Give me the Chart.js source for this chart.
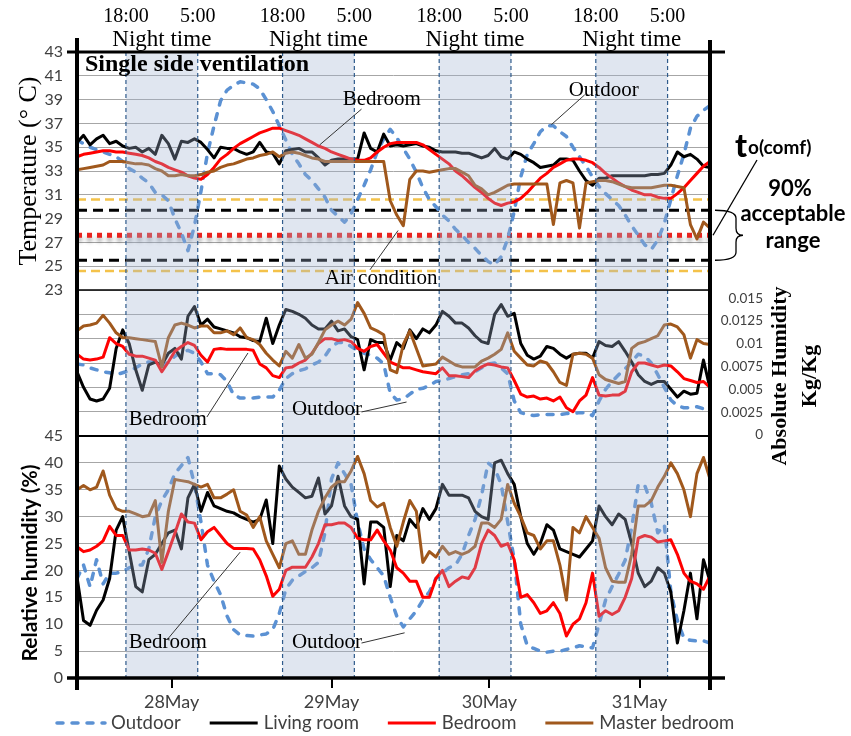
<!DOCTYPE html>
<html>
<head>
<meta charset="utf-8">
<script src="https://cdn.jsdelivr.net/npm/chart.js@4.4.1/dist/chart.umd.min.js"></script>
<style>
  html, body { margin: 0; padding: 0; background: #fff; }
  #wrap { position: relative; width: 851px; height: 736px; }
  #wrap canvas { position: absolute; left: 0; top: 0; }
</style>
</head>
<body>
<div id="wrap">
  <canvas id="temp-chart" width="851" height="736"></canvas>
  <canvas id="ah-chart" width="851" height="736"></canvas>
  <canvas id="rh-chart" width="851" height="736"></canvas>
</div>
<script>
// hours since 27 May 10:30
const hours = [
  0, 1, 2, 3, 4, 5, 6, 7, 8, 9, 10, 11, 12, 13, 14, 15, 16, 17, 18, 19,
  20, 21, 22, 23, 24, 25, 26, 27, 28, 29, 30, 31, 32, 33, 34, 35, 36, 37, 38, 39,
  40, 41, 42, 43, 44, 45, 46, 47, 48, 49, 50, 51, 52, 53, 54, 55, 56, 57, 58, 59,
  60, 61, 62, 63, 64, 65, 66, 67, 68, 69, 70, 71, 72, 73, 74, 75, 76, 77, 78, 79,
  80, 81, 82, 83, 84, 85, 86, 87, 88, 89, 90, 91, 92, 93, 94, 95, 96, 97
];
const hourMax = 97;

const dayTicks = [14.5, 39, 63.2, 86.2];
const dayLabels = ["28May", "29May", "30May", "31May"];

// night periods 18:00 -> 5:00
const nightStart = [7.5, 31.5, 55.5, 79.5];
const nightEnd = [18.5, 42.5, 66.5, 90.5];
const nightStartLabel = "18:00";
const nightEndLabel = "5:00";

// comfort temperature and acceptable ranges
const comfortTemp = 27.6;
const band90 = [25.5, 29.7];
const band80 = [24.6, 30.6];

// ---- temperature (°C)
const tempOutdoor = [
  35.6, 35.3, 35.0, 34.8, 34.6, 34.4, 34.2, 33.8, 33.2, 32.9,
  32.4, 32.0, 31.2, 31.0, 30.5, 29.0, 27.8, 26.3, 28.4, 31.3,
  34.5, 36.8, 38.9, 39.8, 40.2, 40.5, 40.4, 40.3, 39.9, 39.0,
  38.0, 36.8, 35.6, 34.4, 33.6, 32.7, 32.2, 31.5, 30.8, 29.7,
  29.2, 28.7, 29.4, 30.6, 31.8, 33.1, 34.6, 35.7, 36.5, 35.8,
  34.9, 34.0, 32.9, 31.6, 30.6, 30.0, 29.3, 28.8, 28.1, 27.6,
  27.0, 26.5, 25.9, 25.4, 25.1, 25.8, 27.3, 29.6, 32.5, 34.4,
  35.3, 36.3, 36.8, 36.8, 36.3, 35.9, 35.0, 34.2, 33.4, 32.5,
  31.7, 31.1, 30.6, 30.1, 29.3, 28.4, 27.6, 26.8, 26.4, 27.2,
  28.6, 30.6, 32.6, 34.4, 36.6, 37.6, 38.1, 38.5
];
const tempLiving = [
  35.4, 36.0, 35.2, 35.7, 36.0, 35.3, 35.5, 35.1, 34.9, 35.0,
  34.6, 34.9, 34.4, 36.0, 35.3, 34.0, 35.5, 35.4, 35.7, 35.4,
  34.8, 34.1, 35.0, 34.9, 34.9, 34.6, 34.4, 34.6, 35.4, 34.6,
  34.5, 33.6, 34.7, 34.8, 34.9, 34.6, 34.6, 34.1, 33.5, 33.9,
  34.0, 34.0, 34.0, 34.0, 36.2, 34.9, 34.6, 36.1, 35.1, 35.2,
  35.1, 35.2, 35.3, 35.1, 35.0, 34.7, 34.6, 34.6, 34.6, 34.5,
  34.5, 34.3, 34.1, 34.3, 34.9, 34.2, 34.0, 34.6, 34.4, 34.0,
  33.7, 33.3, 33.4, 33.5, 34.0, 34.0, 33.9, 33.0, 32.2, 31.8,
  32.4, 32.4, 32.6, 32.6, 32.6, 32.6, 32.6, 32.6, 32.7, 32.7,
  32.8, 33.5, 34.6, 34.2, 34.4, 34.0, 33.4, 33.3
];
const tempBedroom = [
  34.2, 34.4, 34.5, 34.6, 34.7, 34.7, 34.6, 34.6, 34.5, 34.4,
  34.3, 34.1, 33.8, 33.6, 33.3, 33.1, 32.9, 32.6, 32.4, 32.3,
  32.7, 33.3, 34.0, 34.4, 34.9, 35.3, 35.6, 35.9, 36.2, 36.4,
  36.6, 36.6, 36.4, 36.2, 36.0, 35.7, 35.4, 35.1, 34.9, 34.6,
  34.4, 34.2, 34.0, 33.9, 33.9, 34.1, 34.6, 35.0, 35.3, 35.4,
  35.4, 35.4, 35.4, 35.2, 34.8, 34.4, 34.0, 33.6, 33.0, 32.6,
  32.1, 31.6, 31.2, 30.7, 30.3, 30.1, 30.3, 30.4, 30.7, 31.2,
  31.8, 32.4, 32.8, 33.3, 33.6, 33.9, 34.0, 34.0, 33.9, 33.7,
  33.3, 32.8, 32.4, 32.0, 31.7, 31.4, 31.2, 31.0, 31.0, 30.8,
  30.7, 30.7, 31.1, 31.6, 32.2, 32.8, 33.4, 33.8
];
const tempMaster = [
  33.1, 33.2, 33.3, 33.4, 33.5, 33.8, 33.8, 33.8, 33.7, 33.6,
  33.6, 33.5, 33.2, 33.0, 32.6, 32.6, 32.7, 32.6, 32.6, 32.7,
  32.9, 33.0, 33.3, 33.5, 33.6, 33.8, 34.0, 34.1, 34.3, 34.4,
  34.6, 34.2, 34.5, 34.6, 34.5, 34.3, 34.1, 34.0, 33.8, 33.8,
  33.8, 33.8, 33.8, 33.8, 33.8, 33.8, 33.8, 33.8, 30.5, 29.3,
  28.4, 32.3, 33.0, 33.0, 32.9, 33.0, 33.1, 33.2, 33.2, 32.9,
  32.6, 31.8, 31.5, 31.0, 31.2, 31.5, 31.8, 31.9, 31.9, 31.9,
  31.9, 31.9, 31.9, 28.5, 32.0, 32.2, 32.0, 28.2, 32.0, 32.1,
  32.2, 32.2, 32.1, 31.9, 31.7, 31.6, 31.6, 31.6, 31.6, 31.7,
  31.8, 31.8, 31.7, 31.6, 28.5, 27.3, 28.7, 28.2
];

// ---- absolute humidity (kg/kg)
const ahOutdoor = [
  0.0074, 0.0073, 0.0070, 0.0068, 0.0066, 0.0065, 0.0063, 0.0065, 0.0067, 0.0070,
  0.0074, 0.0076, 0.0076, 0.0072, 0.0076, 0.0082, 0.0086, 0.0088, 0.0085, 0.0076,
  0.0064, 0.0064, 0.0063, 0.0056, 0.0042, 0.0039, 0.0039, 0.0039, 0.0040, 0.0040,
  0.0040, 0.0047, 0.0059, 0.0064, 0.0067, 0.0069, 0.0073, 0.0076, 0.0082, 0.0092,
  0.0096, 0.0096, 0.0092, 0.0088, 0.0085, 0.0083, 0.0080, 0.0074, 0.0044, 0.0037,
  0.0038, 0.0043, 0.0048, 0.0049, 0.0052, 0.0056, 0.0057, 0.0059, 0.0061, 0.0063,
  0.0064, 0.0066, 0.0070, 0.0074, 0.0075, 0.0070, 0.0064, 0.0036, 0.0024, 0.0022,
  0.0021, 0.0022, 0.0022, 0.0022, 0.0022, 0.0023, 0.0023, 0.0024, 0.0024, 0.0021,
  0.0036, 0.0048, 0.0056, 0.0063, 0.0069, 0.0076, 0.0084, 0.0082, 0.0075, 0.0063,
  0.0050, 0.0037, 0.0031, 0.0029, 0.0029, 0.0030, 0.0028, 0.0027
];
const ahLiving = [
  0.0066, 0.0050, 0.0038, 0.0036, 0.0038, 0.0049, 0.0090, 0.0109, 0.0095, 0.0068,
  0.0047, 0.0073, 0.0076, 0.0073, 0.0085, 0.0090, 0.0079, 0.0123, 0.0133, 0.0114,
  0.0120, 0.0112, 0.0110, 0.0108, 0.0106, 0.0102, 0.0101, 0.0098, 0.0097, 0.0121,
  0.0095, 0.0114, 0.0130, 0.0128, 0.0125, 0.0121, 0.0114, 0.0110, 0.0110, 0.0118,
  0.0108, 0.0110, 0.0102, 0.0099, 0.0068, 0.0099, 0.0096, 0.0096, 0.0078, 0.0096,
  0.0090, 0.0109, 0.0100, 0.0110, 0.0106, 0.0114, 0.0128, 0.0123, 0.0116, 0.0116,
  0.0111, 0.0103, 0.0097, 0.0095, 0.0125, 0.0135, 0.0123, 0.0126, 0.0095, 0.0083,
  0.0079, 0.0082, 0.0092, 0.0090, 0.0084, 0.0080, 0.0084, 0.0085, 0.0085, 0.0080,
  0.0097, 0.0093, 0.0092, 0.0097, 0.0087, 0.0076, 0.0063, 0.0056, 0.0053, 0.0056,
  0.0056, 0.0048, 0.0040, 0.0046, 0.0043, 0.0044, 0.0078, 0.0049
];
const ahBedroom = [
  0.0084, 0.0079, 0.0078, 0.0079, 0.0081, 0.0101, 0.0095, 0.0092, 0.0084, 0.0082,
  0.0082, 0.0080, 0.0078, 0.0066, 0.0076, 0.0087, 0.0092, 0.0096, 0.0093, 0.0083,
  0.0076, 0.0089, 0.0090, 0.0089, 0.0089, 0.0089, 0.0089, 0.0088, 0.0074, 0.0070,
  0.0062, 0.0060, 0.0070, 0.0071, 0.0075, 0.0078, 0.0085, 0.0095, 0.0100, 0.0100,
  0.0098, 0.0099, 0.0097, 0.0090, 0.0087, 0.0092, 0.0094, 0.0085, 0.0076, 0.0073,
  0.0070, 0.0070, 0.0068, 0.0066, 0.0065, 0.0064, 0.0070, 0.0062, 0.0062, 0.0061,
  0.0060, 0.0067, 0.0071, 0.0074, 0.0073, 0.0071, 0.0070, 0.0057, 0.0043, 0.0040,
  0.0041, 0.0038, 0.0039, 0.0036, 0.0040, 0.0029, 0.0025, 0.0036, 0.0042, 0.0060,
  0.0042, 0.0041, 0.0042, 0.0042, 0.0046, 0.0066, 0.0075, 0.0075, 0.0073, 0.0071,
  0.0073, 0.0072, 0.0066, 0.0059, 0.0057, 0.0055, 0.0056, 0.0050
];
const ahMaster = [
  0.0108, 0.0113, 0.0114, 0.0116, 0.0124, 0.0116, 0.0106, 0.0101, 0.0101, 0.0100,
  0.0099, 0.0098, 0.0097, 0.0071, 0.0101, 0.0114, 0.0116, 0.0114, 0.0111, 0.0113,
  0.0113, 0.0106, 0.0106, 0.0108, 0.0104, 0.0111, 0.0101, 0.0099, 0.0094, 0.0085,
  0.0078, 0.0072, 0.0087, 0.0080, 0.0094, 0.0080, 0.0084, 0.0096, 0.0109, 0.0114,
  0.0118, 0.0114, 0.0120, 0.0137, 0.0126, 0.0111, 0.0108, 0.0104, 0.0068, 0.0065,
  0.0094, 0.0108, 0.0090, 0.0072, 0.0073, 0.0074, 0.0081, 0.0077, 0.0073, 0.0071,
  0.0071, 0.0071, 0.0077, 0.0080, 0.0084, 0.0089, 0.0106, 0.0087, 0.0080, 0.0073,
  0.0072, 0.0077, 0.0075, 0.0066, 0.0055, 0.0052, 0.0084, 0.0085, 0.0084, 0.0080,
  0.0063, 0.0058, 0.0056, 0.0054, 0.0056, 0.0090, 0.0095, 0.0097, 0.0100, 0.0103,
  0.0114, 0.0115, 0.0112, 0.0104, 0.0080, 0.0099, 0.0095, 0.0094
];
const ahTicks = [0, 0.0025, 0.005, 0.0075, 0.01, 0.0125, 0.015];

// ---- relative humidity (%)
const rhOutdoor = [
  18.5, 21.0, 17.0, 22.0, 17.5, 19.5, 19.5, 19.8, 20.5, 21.0,
  21.0, 24.0, 30.0, 33.0, 35.0, 38.0, 39.5, 41.0, 36.0, 29.0,
  21.0, 18.0, 15.5, 11.5, 9.0, 8.0, 7.9, 7.8, 8.0, 8.2,
  9.0, 12.0, 16.5, 18.2, 19.0, 19.8, 20.5, 21.5, 27.0, 37.0,
  40.0, 38.0, 36.0, 29.0, 24.0, 22.0, 20.5, 19.0, 15.0, 11.5,
  9.5, 11.0, 12.5, 14.5, 16.0, 18.5, 19.5, 20.5, 21.0, 23.0,
  26.5, 29.5, 34.0, 40.0, 39.0, 36.0, 29.0, 22.0, 10.0, 6.0,
  5.5, 5.0, 4.8, 5.0, 5.0, 5.3, 5.6, 6.0, 5.8, 5.6,
  10.0, 14.5, 17.0, 19.3, 21.9, 28.0, 36.0, 35.8, 32.5, 27.0,
  28.5, 16.0, 10.7, 7.4, 7.0, 6.9, 6.9, 6.5
];
const rhLiving = [
  18.8, 10.7, 9.8, 12.6, 14.5, 18.5, 27.5, 30.0, 23.5, 17.0,
  16.0, 22.0, 23.0, 25.0, 27.0, 27.5, 24.0, 33.5, 36.0, 31.0,
  34.5, 32.0, 31.5, 31.0, 30.7, 30.0, 29.5, 29.0, 29.5, 33.1,
  25.0, 39.4, 37.0, 35.5, 34.5, 33.5, 33.8, 37.2, 30.5, 32.0,
  37.5, 32.0, 30.0, 29.5, 17.5, 29.0, 29.0, 28.0, 17.0, 26.5,
  25.5, 29.5, 28.0, 31.5, 29.5, 31.5, 36.0, 34.0, 34.0, 34.0,
  33.5, 31.0, 30.0, 29.5, 40.0, 40.5, 38.0, 36.0, 30.0, 25.0,
  23.0, 25.0, 28.5, 27.5, 24.0, 23.5, 23.0, 22.5, 24.0, 25.5,
  32.0, 30.0, 28.5, 30.5, 29.5, 25.0, 19.5, 17.0, 18.0, 20.5,
  19.5, 16.0, 6.5, 12.5, 19.5, 11.0, 22.0, 18.0
];
const rhBedroom = [
  24.4, 23.5, 23.8, 24.5, 25.5, 28.2, 26.5, 26.5, 23.8, 23.8,
  24.0, 23.8, 23.2, 20.2, 23.5, 26.9, 30.5, 29.0, 28.8, 25.7,
  27.2, 28.0, 26.5, 25.0, 24.1, 24.1, 24.1, 24.0, 22.0, 19.0,
  15.2, 16.5, 20.0, 20.6, 20.6, 20.6, 22.5, 25.0, 28.5, 28.5,
  28.8, 28.8, 28.0, 26.0, 25.7, 25.7, 27.5, 25.5, 23.8, 20.5,
  19.5, 18.0, 18.0, 15.0, 15.0, 18.5, 20.0, 17.0, 18.0, 18.8,
  18.5, 20.5, 25.0, 27.5, 26.5, 24.5, 25.0, 22.0, 15.0, 15.5,
  14.0, 12.0, 12.5, 14.0, 12.0, 7.8, 10.0, 11.0, 14.0, 19.5,
  11.5, 12.5, 11.8, 12.5, 15.0, 18.5, 26.0, 26.5, 26.2, 25.3,
  25.5, 25.7, 23.0, 19.5, 18.0, 17.5, 16.5, 19.0
];
const rhMaster = [
  35.0, 35.8, 35.0, 35.5, 38.5, 34.0, 31.5, 31.0, 31.0, 30.5,
  30.0, 30.2, 33.0, 21.5, 31.0, 36.9, 36.7, 36.5, 36.0, 35.5,
  36.0, 33.5, 33.5, 34.2, 35.0, 31.0, 30.3, 28.0, 30.0, 25.5,
  23.0, 20.5, 25.0, 25.5, 23.0, 23.0, 27.5, 31.0, 33.5, 35.5,
  36.5, 36.5, 38.5, 41.2, 38.0, 33.0, 31.8, 32.5, 28.0, 24.5,
  29.0, 33.0, 31.0, 21.5, 23.5, 22.5, 24.5, 23.0, 23.5, 23.0,
  23.5, 24.5, 28.8, 28.8, 28.0, 29.5, 36.0, 32.5, 30.0, 27.0,
  26.5, 24.0, 25.5, 25.5, 21.0, 14.5, 28.0, 27.0, 30.0, 28.0,
  26.0, 20.5, 18.0, 17.8, 17.8, 23.0, 32.0, 32.0, 33.0, 35.5,
  37.5, 40.0, 38.0, 35.0, 30.0, 38.0, 41.0, 37.0
];

// ---- text callouts, anchored in data units of each panel: [hours, value]
const tempNotes = [
  { text: "Bedroom", at: [46.7, 39.0], line: [[43.6, 38.2], [37.2, 35.2]] },
  { text: "Outdoor", at: [80.7, 39.8], line: [[77.8, 39.4], [72.7, 36.9]] },
  { text: "Air condition", at: [46.6, 24.0], line: [[44.9, 24.7], [49.2, 28.0]] }
];
const ahNotes = [
  { text: "Bedroom", at: [13.9, 0.0017], line: [[19.9, 0.00195], [26.2, 0.00853]] },
  { text: "Outdoor", at: [38.3, 0.0027], line: [[43.6, 0.00247], [50.5, 0.00349]] }
];
const rhNotes = [
  { text: "Bedroom", at: [13.9, 6.6], line: [[13.8, 7.1], [25.0, 23.4]] },
  { text: "Outdoor", at: [38.3, 6.6], line: [[43.6, 6.5], [50.2, 8.4]] }
];

// ---------------------------------------------------------------
Chart.defaults.font.family = "Lato";

const W = 851, H = 736;
const PLOT_LEFT = 77, PLOT_RIGHT = 710;
const AXIS_W = 62;
const GRID = "#a6a6a6";
const TICK_COLOR = "#404040";
const SERIF = '"Liberation Serif", "Times New Roman", serif';

const styles = {
  outdoor: { label: "Outdoor", borderColor: "#5b91d3", borderWidth: 3.5, borderDash: [6, 9], borderCapStyle: "round" },
  living: { label: "Living room", borderColor: "#000000", borderWidth: 3 },
  bedroom: { label: "Bedroom", borderColor: "#ff0000", borderWidth: 3 },
  master: { label: "Master bedroom", borderColor: "#a0581c", borderWidth: 3 }
};

function series(style, values, order) {
  return Object.assign({}, style, {
    data: values.map((v, i) => ({ x: hours[i], y: v })),
    pointRadius: 0,
    borderJoinStyle: "round",
    tension: 0,
    fill: false,
    order: order
  });
}

function flatLine(value, color, width, dash, order, extra) {
  return Object.assign({
    data: [{ x: 0, y: value }, { x: hourMax, y: value }],
    borderColor: color,
    borderWidth: width,
    borderDash: dash,
    pointRadius: 0,
    fill: false,
    order: order
  }, extra || {});
}

function fourSeries(o, l, b, m) {
  return [
    series(styles.outdoor, o, 4),
    series(styles.living, l, 3),
    series(styles.bedroom, b, 2),
    series(styles.master, m, 1)
  ];
}

const hiddenX = { type: "linear", min: 0, max: hourMax, display: false };

// soft drop shadow under the comfort-temperature line
const lineShadow = {
  id: "lineShadow",
  beforeDatasetDraw(chart, args) {
    if (!chart.data.datasets[args.index].shadow) return;
    const ctx = chart.ctx;
    ctx.save();
    ctx.shadowColor = "rgba(0, 0, 0, 0.35)";
    ctx.shadowBlur = 4;
    ctx.shadowOffsetY = 4;
  },
  afterDatasetDraw(chart, args) {
    if (chart.data.datasets[args.index].shadow) chart.ctx.restore();
  }
};

function makeChart(id, datasets, scales, padding, plugins) {
  return new Chart(document.getElementById(id), {
    type: "line",
    data: { datasets },
    options: {
      responsive: false,
      animation: false,
      events: [],
      layout: { padding },
      plugins: { legend: { display: false }, tooltip: { enabled: false } },
      scales
    },
    plugins: plugins || []
  });
}

let tempChart, ahChart;

// ---- top panel: temperature
tempChart = makeChart("temp-chart",
  [
    flatLine(band80[1], "#f4c24a", 2.5, [9, 5], 9),
    flatLine(band80[0], "#f4c24a", 2.5, [9, 5], 9),
    flatLine(band90[1], "#000000", 3, [10, 6], 8),
    flatLine(band90[0], "#000000", 3, [10, 6], 8),
    flatLine(comfortTemp, "#e8231f", 5, [5, 5], 7, { shadow: true })
  ].concat(fourSeries(tempOutdoor, tempLiving, tempBedroom, tempMaster)),
  {
    x: hiddenX,
    y: {
      min: 23, max: 43,
      afterFit: s => { s.width = AXIS_W; },
      ticks: { stepSize: 2, padding: 14, color: TICK_COLOR, font: { size: 16 }, callback: v => v },
      grid: { color: GRID, drawTicks: false },
      border: { display: false }
    }
  },
  { left: PLOT_LEFT - AXIS_W, right: W - PLOT_RIGHT, top: 52, bottom: H - 290 },
  [lineShadow]
);

// ---- middle panel: absolute humidity
ahChart = makeChart("ah-chart",
  fourSeries(ahOutdoor, ahLiving, ahBedroom, ahMaster),
  {
    x: hiddenX,
    y: {
      position: "left", min: 0, max: 0.015,
      afterFit: s => { s.width = 0; },
      ticks: { display: false, stepSize: 0.0025 },
      grid: { color: GRID, drawTicks: false },
      border: { display: false }
    },
    yLab: {
      position: "right", min: -0.0001, max: 0.0159,
      afterBuildTicks: s => { s.ticks = ahTicks.map(v => ({ value: v })); },
      afterFit: s => { s.width = 53; },
      ticks: { padding: 10, crossAlign: "far", color: TICK_COLOR, font: { size: 13.5 }, callback: v => String(v) },
      grid: { display: false },
      border: { display: false }
    }
  },
  { left: PLOT_LEFT, right: W - PLOT_RIGHT - 53, top: 290, bottom: H - 436 }
);

// ---- everything that sits on top of all three panels
function seg(ctx, x1, y1, x2, y2, w) {
  ctx.lineWidth = w;
  ctx.beginPath();
  ctx.moveTo(x1, y1);
  ctx.lineTo(x2, y2);
  ctx.stroke();
}

function rotText(ctx, str, x, y, font) {
  ctx.save();
  ctx.translate(x, y);
  ctx.rotate(-Math.PI / 2);
  ctx.font = font;
  ctx.textAlign = "center";
  ctx.textBaseline = "middle";
  ctx.fillText(str, 0, 0);
  ctx.restore();
}

const overlay = {
  id: "overlay",
  afterDatasetsDraw(chart) {
    const ctx = chart.ctx, xs = chart.scales.x;
    const top = tempChart.chartArea.top, bottom = chart.chartArea.bottom;
    ctx.save();
    ctx.fillStyle = "rgba(160, 180, 210, 0.33)";
    nightStart.forEach((h, i) => {
      const x1 = xs.getPixelForValue(h), x2 = xs.getPixelForValue(nightEnd[i]);
      ctx.fillRect(x1, top, x2 - x1, bottom - top);
    });
    ctx.strokeStyle = "#2f5b8c";
    ctx.setLineDash([4, 3]);
    nightStart.concat(nightEnd).forEach(h => {
      const x = xs.getPixelForValue(h);
      seg(ctx, x, top, x, bottom, 1.2);
    });
    ctx.restore();
  },
  afterDraw(chart) {
    const ctx = chart.ctx, xs = chart.scales.x;
    const tA = tempChart.chartArea, mA = ahChart.chartArea, bA = chart.chartArea;
    ctx.save();

    // frame
    ctx.strokeStyle = "#000";
    seg(ctx, tA.left - 10, tA.top, tA.right + 15, tA.top, 3);
    seg(ctx, bA.left - 10, bA.bottom, bA.right + 15, bA.bottom, 3.5);
    seg(ctx, tA.left, tA.top - 14, tA.left, bA.bottom + 12, 4);
    seg(ctx, tA.right, tA.top - 12, tA.right, bA.bottom + 12, 4);
    seg(ctx, tA.left, mA.top, tA.right, mA.top, 1.5);
    seg(ctx, tA.left, mA.bottom, tA.right, mA.bottom, 2);

    // night labels above the plot
    ctx.fillStyle = "#000";
    ctx.textAlign = "center";
    ctx.textBaseline = "middle";
    nightStart.forEach((h, i) => {
      const x1 = xs.getPixelForValue(h), x2 = xs.getPixelForValue(nightEnd[i]);
      ctx.font = "20px " + SERIF;
      ctx.fillText(nightStartLabel, x1, 17);
      ctx.fillText(nightEndLabel, x2, 17);
      ctx.font = "23px " + SERIF;
      ctx.fillText("Night time", (x1 + x2) / 2, 40);
    });

    ctx.textAlign = "left";
    ctx.font = "bold 24px " + SERIF;
    ctx.fillText("Single side ventilation", tA.left + 8, tA.top + 13);

    // callouts
    ctx.font = "21px " + SERIF;
    ctx.textAlign = "center";
    [[tempChart, tempNotes], [ahChart, ahNotes], [chart, rhNotes]].forEach(([c, notes]) => {
      const px = p => [c.scales.x.getPixelForValue(p[0]), c.scales.y.getPixelForValue(p[1])];
      notes.forEach(n => {
        const a = px(n.line[0]), b = px(n.line[1]);
        ctx.strokeStyle = "#333";
        seg(ctx, a[0], a[1], b[0], b[1], 1);
        const t = px(n.at);
        ctx.fillStyle = "#000";
        ctx.fillText(n.text, t[0], t[1]);
      });
    });

    // axis titles
    ctx.fillStyle = "#000";
    rotText(ctx, "Temperature (° C)", 29, (tA.top + tA.bottom) / 2, "26px " + SERIF);
    rotText(ctx, "Relative humidity (%)", 30, (bA.top + bA.bottom) / 2 + 6, "bold 21px Lato");
    rotText(ctx, "Absolute Humidity", 780, 376, "bold 22px " + SERIF);
    rotText(ctx, "Kg/Kg", 810, 376, "bold 22px " + SERIF);

    // comfort temperature with its 90 % band
    const ty = tempChart.scales.y;
    const yc = ty.getPixelForValue(comfortTemp);
    const yt = ty.getPixelForValue(band90[1]), yb = ty.getPixelForValue(band90[0]);
    const ym = (yt + yb) / 2;
    ctx.strokeStyle = "#000";
    seg(ctx, 757, 160, tA.right + 3, yc, 1.3);
    const x0 = tA.right + 5, xm = tA.right + 26, xt = tA.right + 33;
    ctx.lineWidth = 1.3;
    ctx.beginPath();
    ctx.moveTo(x0, yt);
    ctx.quadraticCurveTo(xm, yt, xm, yt + 8);
    ctx.lineTo(xm, ym - 7);
    ctx.quadraticCurveTo(xm, ym, xt, ym);
    ctx.quadraticCurveTo(xm, ym, xm, ym + 7);
    ctx.lineTo(xm, yb - 8);
    ctx.quadraticCurveTo(xm, yb, x0, yb);
    ctx.stroke();

    ctx.textAlign = "left";
    ctx.textBaseline = "alphabetic";
    ctx.font = "900 32px Lato";
    ctx.fillText("t", 735, 157);
    ctx.font = "bold 19px Lato";
    ctx.fillText("o(comf)", 748, 154);
    ctx.textAlign = "center";
    ctx.textBaseline = "middle";
    ctx.font = "bold 22px Lato";
    ctx.fillText("90%", 790, 189);
    ctx.fillText("acceptable", 793, 214);
    ctx.fillText("range", 793, 241);

    // legend
    const items = [styles.outdoor, styles.living, styles.bedroom, styles.master];
    const ly = 723;
    let lx = 57;
    ctx.font = "18.5px Lato";
    ctx.textAlign = "left";
    items.forEach(s => {
      ctx.save();
      ctx.strokeStyle = s.borderColor;
      ctx.setLineDash(s.borderDash || []);
      ctx.lineCap = s.borderCapStyle || "butt";
      seg(ctx, lx, ly, lx + 48, ly, s.borderWidth);
      ctx.restore();
      ctx.fillStyle = TICK_COLOR;
      ctx.fillText(s.label, lx + 54, ly);
      lx += 54 + ctx.measureText(s.label).width + 29;
    });

    ctx.restore();
  }
};

// ---- bottom panel: relative humidity (its canvas is on top)
makeChart("rh-chart",
  fourSeries(rhOutdoor, rhLiving, rhBedroom, rhMaster),
  {
    x: {
      type: "linear", min: 0, max: hourMax,
      afterBuildTicks: s => { s.ticks = dayTicks.map(v => ({ value: v })); },
      afterFit: s => { s.height = 40; },
      ticks: {
        autoSkip: false, maxRotation: 0, padding: 3,
        color: TICK_COLOR, font: { size: 18 },
        callback: (v, i) => dayLabels[i]
      },
      grid: { drawOnChartArea: false, drawTicks: true, tickLength: 10, color: "#000", lineWidth: 2 },
      border: { display: false }
    },
    y: {
      min: 0, max: 45,
      afterFit: s => { s.width = AXIS_W; },
      ticks: { stepSize: 5, padding: 14, color: TICK_COLOR, font: { size: 16 }, callback: v => v },
      grid: { color: GRID, drawTicks: false },
      border: { display: false }
    }
  },
  { left: PLOT_LEFT - AXIS_W, right: W - PLOT_RIGHT, top: 436, bottom: H - 678 - 40 },
  [overlay]
);
</script>
</body>
</html>
